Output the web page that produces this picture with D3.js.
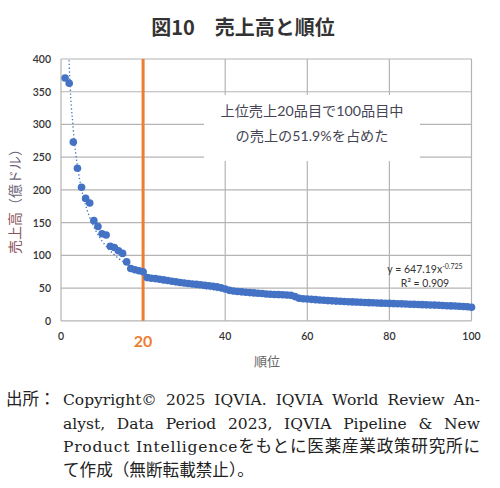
<!DOCTYPE html>
<html>
<head>
<meta charset="utf-8">
<script src="https://cdn.jsdelivr.net/npm/d3@7"></script>
<style>
  body { margin: 0; background: #fff; }
  svg { display: block; }
</style>
</head>
<body>
<script>
// 売上高と順位 (top 100 products), values in 億ドル
const ranks = d3.range(1, 101);
const sales = [
  371, 363, 273, 233, 204, 187, 180, 153, 144, 133,
  131, 114, 112, 107, 103, 90, 80, 78, 76.5, 75,
  66, 65, 64.5, 63.5, 62.5, 61.5, 60.5, 59.5, 58.5, 57.8,
  57, 56.3, 55.6, 55, 54.2, 53.5, 52.8, 51.8, 50.5, 48.5,
  46.5, 45.5, 44.8, 44.2, 43.6, 43.1, 42.6, 42.1, 41.6, 41,
  40.5, 40.2, 40, 39.8, 39.5, 39, 37, 34.5, 33.8, 33.3,
  32.8, 32.3, 31.8, 31.3, 30.9, 30.5, 30.1, 29.8, 29.5, 29.2,
  28.9, 28.6, 28.3, 28, 27.7, 27.5, 27.2, 27, 26.8, 26.6,
  26.3, 26.1, 25.9, 25.6, 25.4, 25.1, 24.9, 24.7, 24.4, 24.2,
  24, 23.7, 23.4, 23.1, 22.8, 22.5, 22.2, 21.8, 21.4, 20.8
];
const xTicks = [0, 20, 40, 60, 80, 100];
const yTicks = [0, 50, 100, 150, 200, 250, 300, 350, 400];
const cutoffRank = 20;
// power trendline shown on the chart: y = 647.19 x^-0.725
const trendA = 647.19;
const trendB = -0.725;
const trendLabel = ["y = 647.19x", "-0.725"];
const r2Label = "R² = 0.909";
const noteLines = ["上位売上20品目で100品目中", "の売上の51.9%を占めた"];
const title = "図10　売上高と順位";
const sourceLines = [
  "Copyright© 2025 IQVIA. IQVIA World Review An-",
  "alyst, Data Period 2023, IQVIA Pipeline & New",
  "Product Intelligenceをもとに医薬産業政策研究所に",
  "て作成（無断転載禁止）。"
];

const W = 500, H = 488;
const sans = "Lato, 'Noto Sans CJK JP', sans-serif";
const serif = "'DejaVu Serif', 'Noto Sans CJK JP', serif";

const svg = d3.select("body").append("svg").attr("width", W).attr("height", H);

const x = d3.scaleLinear().domain([0, 100]).range([61, 471.5]);
const y = d3.scaleLinear().domain([0, 400]).range([320.8, 59]);

// title
svg.append("text")
  .attr("x", 243).attr("y", 35)
  .attr("text-anchor", "middle")
  .attr("font-family", "'Noto Sans CJK JP', sans-serif")
  .attr("font-weight", "bold").attr("font-size", 20)
  .attr("fill", "#333")
  .text(title);

// gridlines
const grid = svg.append("g").attr("stroke", "#b4b4b4").attr("stroke-width", 1.2);
grid.selectAll("line.h").data(yTicks).join("line")
  .attr("x1", x(0)).attr("x2", x(100))
  .attr("y1", d => y(d)).attr("y2", d => y(d));
grid.selectAll("line.v").data(xTicks).join("line")
  .attr("y1", y(0)).attr("y2", y(400))
  .attr("x1", d => x(d)).attr("x2", d => x(d));

// white note box over the gridlines
svg.append("rect")
  .attr("x", 204).attr("y", 95).attr("width", 216).attr("height", 66)
  .attr("fill", "#fff");
svg.append("g").selectAll("text").data(noteLines).join("text")
  .attr("x", 312).attr("y", (d, i) => 116 + i * 25)
  .attr("text-anchor", "middle")
  .attr("font-family", sans).attr("font-size", 14.2)
  .attr("fill", "#454555")
  .text(d => d);

// y tick labels
svg.append("g").selectAll("text").data(yTicks).join("text")
  .attr("x", 51).attr("y", d => y(d) + 4)
  .attr("text-anchor", "end")
  .attr("font-family", sans).attr("font-size", 10.5).attr("font-weight", 600)
  .attr("fill", "#333")
  .text(d => d);

// x tick labels (20 is highlighted)
svg.append("g").selectAll("text").data(xTicks).join("text")
  .attr("x", d => x(d)).attr("y", d => d === cutoffRank ? 347 : 340)
  .attr("text-anchor", "middle")
  .attr("font-family", sans)
  .attr("font-size", d => d === cutoffRank ? 16 : 10.5)
  .attr("font-weight", d => d === cutoffRank ? 700 : 600)
  .attr("fill", d => d === cutoffRank ? "#ed7d31" : "#333")
  .text(d => d);

// axis titles
svg.append("text")
  .attr("x", 267).attr("y", 366)
  .attr("text-anchor", "middle")
  .attr("font-family", "'Noto Sans CJK JP', sans-serif").attr("font-size", 13)
  .attr("fill", "#666")
  .text("順位");
const yl = svg.append("text")
  .attr("transform", "translate(20,198) rotate(-90)")
  .attr("text-anchor", "middle")
  .attr("font-family", "'Noto Sans CJK JP', sans-serif").attr("font-size", 14);
yl.append("tspan").attr("fill", "#8a5560").text("売上高");
yl.append("tspan").attr("fill", "#6b6478").text("（億ドル）");

// cutoff line at rank 20
svg.append("line")
  .attr("x1", x(cutoffRank)).attr("x2", x(cutoffRank))
  .attr("y1", y(400)).attr("y2", y(0))
  .attr("stroke", "#ed7d31").attr("stroke-width", 3);

// points
svg.append("g").selectAll("circle").data(ranks).join("circle")
  .attr("cx", d => x(d)).attr("cy", (d, i) => y(sales[i]))
  .attr("r", 3.8).attr("fill", "#4472c4");

// trendline, clipped to plot area
svg.append("clipPath").attr("id", "plot")
  .append("rect").attr("x", x(0)).attr("y", y(400))
  .attr("width", x(100) - x(0)).attr("height", y(0) - y(400));
const trend = d3.line()
  .x(d => x(d))
  .y(d => y(trendA * Math.pow(d, trendB)))
  .curve(d3.curveMonotoneX);
svg.append("path")
  .attr("clip-path", "url(#plot)")
  .attr("d", trend(ranks))
  .attr("fill", "none").attr("stroke", "#4472c4")
  .attr("stroke-width", 1.3).attr("stroke-dasharray", "1.3,2.4");

// equation
const eq = svg.append("text")
  .attr("x", 425).attr("y", 273)
  .attr("text-anchor", "middle")
  .attr("font-family", sans).attr("font-size", 10.5)
  .attr("fill", "#333");
eq.append("tspan").text(trendLabel[0]);
eq.append("tspan").attr("dy", -4).attr("font-size", 7).text(trendLabel[1]);
svg.append("text")
  .attr("x", 425).attr("y", 287)
  .attr("text-anchor", "middle")
  .attr("font-family", sans).attr("font-size", 10.5)
  .attr("fill", "#333")
  .text(r2Label);

// source note: CJK runs a bit larger, lines justified to the right edge
svg.append("text")
  .attr("x", 6).attr("y", 405)
  .attr("font-family", "'Noto Sans CJK JP', sans-serif").attr("font-size", 16.5)
  .attr("fill", "#222")
  .text("出所：");
const lineWidth = 417;
const cjk = /([\u3000-\u30ff\u4e00-\u9fff\uff00-\uffef]+)/;
svg.append("g").selectAll("text").data(sourceLines).join("text")
  .attr("x", 63).attr("y", (d, i) => 405 + i * 23.6)
  .attr("font-family", serif).attr("font-size", 15.5)
  .attr("fill", "#222")
  .each(function (d, i) {
    const t = d3.select(this);
    d.split(cjk).filter(s => s).forEach(s => {
      const ts = t.append("tspan").text(s);
      if (cjk.test(s)) ts.attr("font-family", "'Noto Sans CJK JP', sans-serif").attr("font-size", 16.6);
    });
    if (i === sourceLines.length - 1) return;
    const gaps = (d.match(/ /g) || []).length;
    const extra = lineWidth - this.getComputedTextLength();
    if (extra < 0) {
      t.attr("textLength", lineWidth).attr("lengthAdjust", "spacingAndGlyphs");
    } else if (gaps >= 3) {
      t.attr("word-spacing", extra / gaps);
    } else {
      t.attr("letter-spacing", extra / (d.length - 1));
    }
  });
</script>
</body>
</html>
